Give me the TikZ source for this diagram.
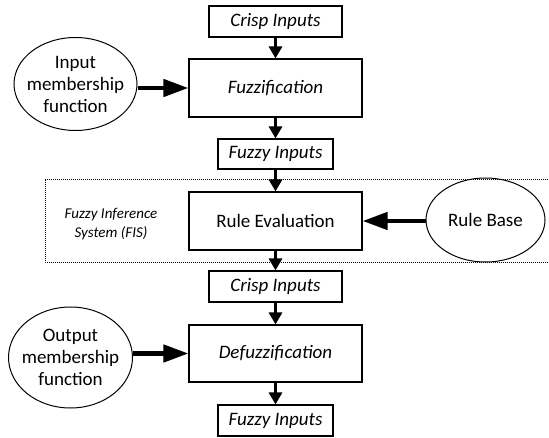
\documentclass[tikz,border=0pt]{standalone}
\usepackage{fontspec}
\setmainfont{Carlito}
\usetikzlibrary{arrows.meta,shapes.geometric}
\begin{document}
\begin{tikzpicture}[x=1pt,y=-1pt,
  box/.style={draw,line width=1.1pt,rectangle,inner sep=0pt,font=\fontsize{19}{22}\selectfont\itshape},
  oval/.style={draw,line width=1pt,ellipse,inner sep=0pt},
  ovaltext/.style={align=center,inner sep=0pt,font=\fontsize{19}{22}\selectfont},
  varrow/.style={line width=3.2pt,-{Triangle[length=12pt,width=13pt]}},
  harrow/.style={line width=4.5pt,-{Triangle[length=25pt,width=17pt]}},
  fisbox/.style={line width=0.8pt,dash pattern=on 0.9pt off 1.1pt}
]
\useasboundingbox (0,0) rectangle (549,438);
\fill[white] (0,0) rectangle (549,438);
% dotted frame of the FIS
\draw[fisbox] (560,179) -- (45,179) -- (45,262) -- (560,262);
\node[align=center,inner sep=0pt,font=\fontsize{15}{19}\selectfont\itshape] (fis) at (111,224) {Fuzzy Inference\\System (FIS)};
% main column
\node[box,minimum width=133pt,minimum height=31pt] (ci1) at (275.5,21.5) {Crisp Inputs};
\node[box,minimum width=173pt,minimum height=58pt] (fuzz) at (275.5,88) {Fuzzification};
\node[box,minimum width=115pt,minimum height=30pt] (fi1) at (275.5,154) {Fuzzy Inputs};
\node[box,minimum width=173pt,minimum height=58pt,font=\fontsize{19}{22}\selectfont] (re) at (275.5,221) {Rule Evaluation};
\node[box,minimum width=133pt,minimum height=31pt] (ci2) at (275.5,286.5) {Crisp Inputs};
\node[box,minimum width=173pt,minimum height=57pt] (defuzz) at (275.5,353.5) {Defuzzification};
\node[box,minimum width=115pt,minimum height=31pt] (fi2) at (275.5,420.5) {Fuzzy Inputs};
% ellipses
\node[oval,minimum width=123pt,minimum height=93pt] (inmf) at (75.5,84) {};
\node[ovaltext] (inmft) at (inmf.center) {Input\\membership\\function};
\node[oval,minimum width=124pt,minimum height=101pt] (outmf) at (70.5,357.5) {};
\node[ovaltext] (outmft) at (outmf.center) {Output\\membership\\function};
\node[oval,minimum width=119pt,minimum height=84pt] (rb) at (485.5,220) {};
\node[ovaltext] (rbt) at (rb.center) {Rule Base};
% vertical arrows
\draw[varrow] (ci1) -- (fuzz);
\draw[varrow] (fuzz) -- (fi1);
\draw[varrow] (fi1) -- (re);
\draw[varrow] (re) -- (ci2);
\draw[varrow] (ci2) -- (defuzz);
\draw[varrow] (defuzz) -- (fi2);
% horizontal arrows
\draw[harrow] (fuzz.west -| inmf.east) -- (fuzz.west);
\draw[harrow] (defuzz.west -| outmf.east) -- (defuzz.west);
\draw[harrow] (re.east -| rb.west) -- (re.east);
\end{tikzpicture}
\end{document}
